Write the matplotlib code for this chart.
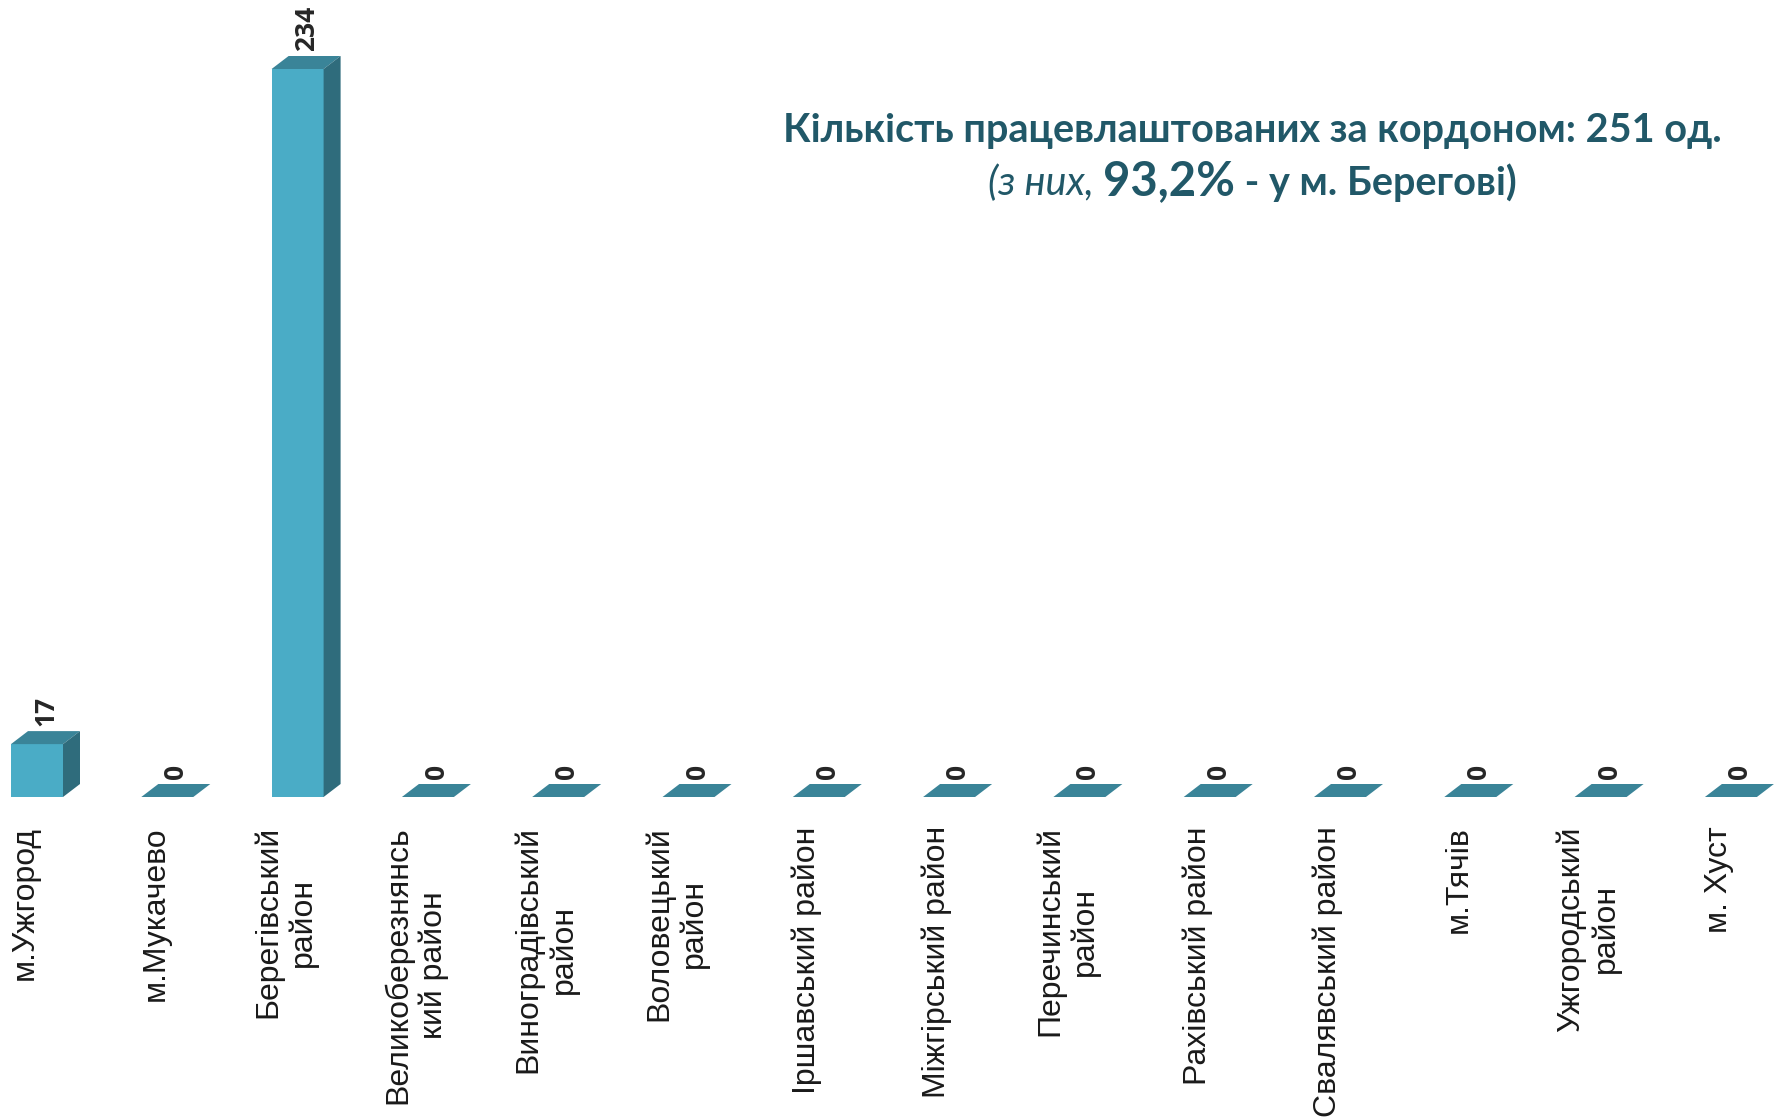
import matplotlib
matplotlib.use("Agg")
import matplotlib.pyplot as plt
from matplotlib.patches import Polygon

# дані
districts = ["м.Ужгород", "м.Мукачево", "Берегівський\nрайон",
             "Великоберезнянсь\nкий район", "Виноградівський\nрайон",
             "Воловецький\nрайон", "Іршавський район", "Міжгірський район",
             "Перечинський\nрайон", "Рахівський район", "Свалявський район",
             "м.Тячів", "Ужгородський\nрайон", "м. Хуст"]
employed = [17, 0, 234, 0, 0, 0, 0, 0, 0, 0, 0, 0, 0, 0]

title1 = "Кількість працевлаштованих за кордоном: 251 од."
title2_parts = ["(з них, ", "93,2%", " - у м. Берегові)"]

front_c = "#4aacc6"
top_c = "#3a8498"
side_c = "#2f6c7c"
title_c = "#215868"

W, H = 1777, 1117
fig = plt.figure(figsize=(W / 100, H / 100), dpi=100)
ax = fig.add_axes([0, 1 - 797 / H, 1, 797 / H])

step = 130.3           # пікселів на категорію
ppu = 728 / 234        # пікселів на одиницю
ax.set_xlim(-25 / step, -25 / step + W / step)
ax.set_ylim(0, 797 / ppu)

shift = 12 / step      # зсув стовпця відносно підпису
bw = 52 / step
dx = 17 / step
dy = 13 / ppu

for i, v in enumerate(employed):
    x0 = i + shift - bw / 2
    x1 = x0 + bw
    ax.bar(i + shift, v, width=bw, color=front_c, zorder=2)
    ax.add_patch(Polygon([(x0, v), (x1, v), (x1 + dx, v + dy), (x0 + dx, v + dy)],
                         closed=True, color=top_c, lw=0, zorder=3))
    ax.add_patch(Polygon([(x1, 0), (x1 + dx, dy), (x1 + dx, v + dy), (x1, v)],
                         closed=True, color=side_c, lw=0, zorder=3))
    ax.text(i + shift + dx / 2, v + dy + 5 / ppu, str(v), rotation=90,
            ha="center", va="bottom", fontsize=19, fontweight="bold",
            family="Open Sans", color="#262626")

ax.set_xticks(range(len(districts)))
ax.set_xticklabels(districts, rotation=90, fontsize=23, family="Liberation Sans",
                   color="#1a1a1a", ha="center", va="top", multialignment="center")
ax.tick_params(axis="x", length=0, pad=21)
ax.set_yticks([])
for s in ax.spines.values():
    s.set_visible(False)

# заголовок
cx = 1252 / W
fig.text(cx, 1 - 142 / H, title1, ha="center", va="baseline", fontsize=28.5,
         fontweight="bold", family="Lato", color=title_c)

renderer = fig.canvas.get_renderer()
styles = [dict(style="italic", fontweight="normal", fontsize=28.5),
          dict(fontweight="bold", fontsize=34),
          dict(fontweight="bold", fontsize=28.5)]
pieces = []
for p, st in zip(title2_parts, styles):
    t = fig.text(0, 1 - 195 / H, p, ha="left", va="baseline", family="Lato",
                 color=title_c, **st)
    pieces.append(t)
widths = [t.get_window_extent(renderer).width for t in pieces]
xpos = 1252 - sum(widths) / 2
for t, w in zip(pieces, widths):
    t.set_x(xpos / W)
    xpos += w

fig.savefig("out.png", dpi=100)
